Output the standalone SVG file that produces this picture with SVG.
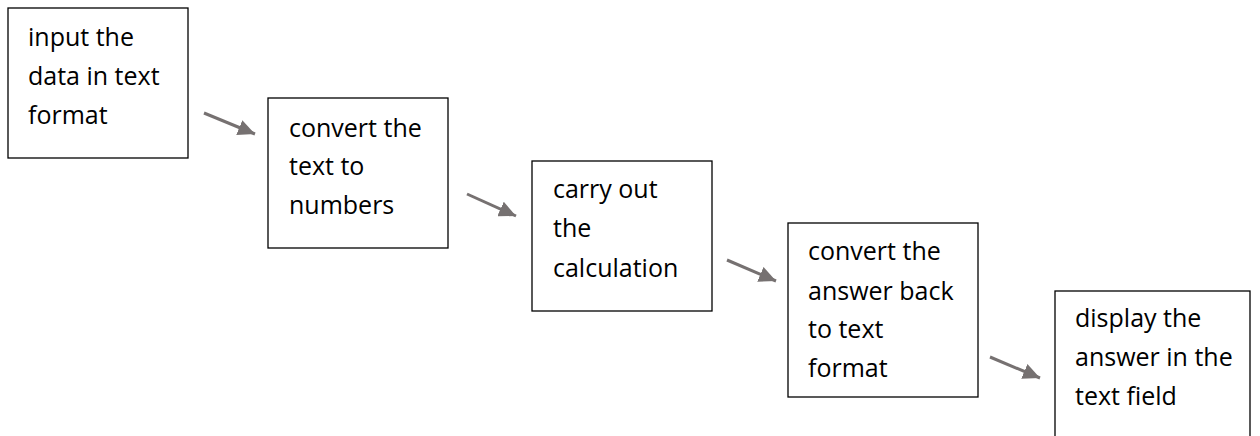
<svg xmlns="http://www.w3.org/2000/svg" width="1260" height="436" viewBox="0 0 1260 436">
<style>
.box{fill:#fff;stroke:#000;stroke-width:1.3}
.t{font-family:"Open Sans","Liberation Sans",sans-serif;font-size:25px;fill:#000}
.c{stroke:#767171;stroke-width:3;fill:none}
</style>
<defs>
<marker id="ah" markerUnits="userSpaceOnUse" markerWidth="18" markerHeight="16" refX="17" refY="8" orient="auto">
<path d="M0,0 L17,8 L0,16 Z" fill="#767171"/>
</marker>
</defs>
<rect width="1260" height="436" fill="#fff"/>
<g id="connectors">
<line class="c" x1="204" y1="113" x2="255" y2="134" marker-end="url(#ah)"/>
<line class="c" x1="467" y1="194" x2="516" y2="216" marker-end="url(#ah)"/>
<line class="c" x1="727" y1="260" x2="776" y2="281" marker-end="url(#ah)"/>
<line class="c" x1="990" y1="357" x2="1040" y2="378" marker-end="url(#ah)"/>
</g>
<g id="n1">
<rect class="box" x="8" y="8" width="180" height="150"/>
<text class="t" x="28" y="46">input the</text>
<text class="t" x="28" y="85">data in text</text>
<text class="t" x="28" y="124">format</text>
</g>
<g id="n2">
<rect class="box" x="268" y="98" width="180" height="150"/>
<text class="t" x="289" y="137">convert the</text>
<text class="t" x="289" y="175">text to</text>
<text class="t" x="289" y="214">numbers</text>
</g>
<g id="n3">
<rect class="box" x="532" y="161" width="180" height="150"/>
<text class="t" x="553" y="198">carry out</text>
<text class="t" x="553" y="237">the</text>
<text class="t" x="553" y="277">calculation</text>
</g>
<g id="n4">
<rect class="box" x="788" y="223" width="190" height="174"/>
<text class="t" x="808" y="260">convert the</text>
<text class="t" x="808" y="300">answer back</text>
<text class="t" x="808" y="338">to text</text>
<text class="t" x="808" y="377">format</text>
</g>
<g id="n5">
<rect class="box" x="1055" y="291" width="195" height="160"/>
<text class="t" x="1075" y="327">display the</text>
<text class="t" x="1075" y="366">answer in the</text>
<text class="t" x="1075" y="405">text field</text>
</g>
</svg>
